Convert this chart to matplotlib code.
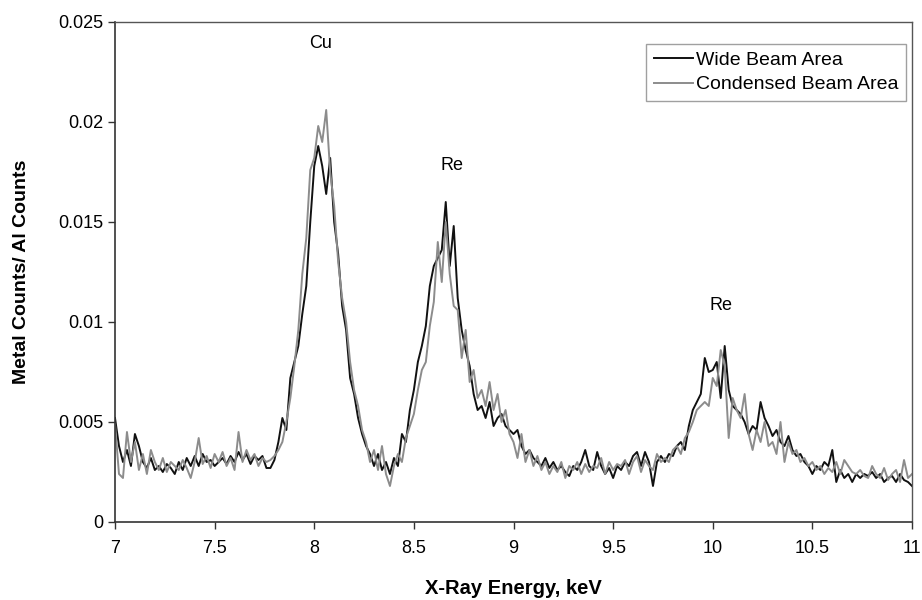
import numpy as np
import matplotlib
matplotlib.use("Agg")
import matplotlib.pyplot as plt

plt.rcParams['font.family'] = ['Liberation Sans', 'DejaVu Sans']

# values in units of 1e-4 (Metal counts / Al counts), sampled every 0.02 keV from 7 to 11 keV
wide_e4 = [
    52, 38, 30, 36, 28, 44, 38, 30, 27, 32,   # 7.00-7.18
    26, 28, 25, 29, 27, 24, 30, 26, 32, 28,   # 7.20-7.38
    33, 28, 34, 30, 31, 28, 30, 32, 29, 33,   # 7.40-7.58
    30, 35, 31, 34, 29, 33, 31, 33, 27, 27,   # 7.60-7.78
    31, 40, 52, 46, 72, 80, 88, 104, 118, 150,  # 7.80-7.98
    178, 188, 178, 164, 182, 150, 134, 108, 96, 72,  # 8.00-8.18
    64, 52, 44, 38, 34, 28, 34, 26, 30, 24,   # 8.20-8.38
    32, 28, 44, 40, 56, 66, 80, 88, 98, 118,  # 8.40-8.58
    128, 132, 136, 160, 128, 148, 112, 96, 86, 78,  # 8.60-8.78
    64, 56, 58, 52, 60, 48, 52, 54, 48, 46,   # 8.80-8.98
    44, 46, 38, 34, 36, 32, 30, 28, 32, 27,   # 9.00-9.18
    30, 26, 28, 25, 23, 28, 26, 30, 36, 28,   # 9.20-9.38
    26, 35, 28, 24, 27, 22, 28, 26, 30, 28,   # 9.40-9.58
    33, 35, 28, 35, 30, 18, 30, 33, 30, 34,   # 9.60-9.78
    33, 38, 40, 36, 48, 56, 60, 64, 82, 75,   # 9.80-9.98
    76, 80, 62, 88, 66, 58, 56, 54, 50, 44,   # 10.00-10.18
    48, 46, 60, 52, 48, 43, 46, 40, 38, 43,   # 10.20-10.38
    36, 33, 34, 30, 28, 24, 28, 26, 30, 28,   # 10.40-10.58
    36, 20, 26, 22, 24, 20, 24, 22, 24, 23,   # 10.60-10.78
    25, 22, 24, 20, 22, 23, 20, 24, 21, 20,   # 10.80-10.98
    18,                                       # 11.00
]
condensed_e4 = [
    49, 24, 22, 45, 30, 40, 26, 34, 24, 36,   # 7.00-7.18
    30, 26, 32, 25, 30, 28, 26, 31, 27, 22,   # 7.20-7.38
    30, 42, 29, 33, 27, 34, 30, 35, 28, 32,   # 7.40-7.58
    26, 45, 30, 36, 31, 34, 28, 32, 30, 31,   # 7.60-7.78
    33, 36, 40, 50, 62, 78, 96, 124, 142, 176,  # 7.80-7.98
    182, 198, 190, 206, 175, 158, 130, 112, 100, 80,  # 8.00-8.18
    66, 58, 46, 40, 30, 36, 26, 38, 24, 18,   # 8.20-8.38
    28, 34, 30, 42, 48, 54, 66, 76, 80, 98,   # 8.40-8.58
    110, 140, 120, 150, 124, 108, 106, 82, 96, 70,  # 8.60-8.78
    76, 62, 66, 58, 70, 56, 64, 50, 56, 44,   # 8.80-8.98
    40, 32, 44, 30, 36, 28, 33, 26, 30, 24,   # 9.00-9.18
    28, 25, 30, 22, 28, 26, 30, 24, 29, 25,   # 9.20-9.38
    28, 27, 32, 24, 30, 26, 29, 28, 31, 24,   # 9.40-9.58
    30, 33, 25, 31, 28, 26, 34, 30, 32, 30,   # 9.60-9.78
    36, 38, 34, 42, 45, 50, 56, 58, 60, 58,   # 9.80-9.98
    72, 68, 86, 78, 42, 62, 56, 52, 64, 44,   # 10.00-10.18
    36, 46, 40, 50, 38, 40, 34, 50, 30, 40,   # 10.20-10.38
    34, 36, 30, 32, 28, 30, 26, 28, 24, 27,   # 10.40-10.58
    25, 30, 24, 31, 28, 25, 24, 26, 23, 22,   # 10.60-10.78
    28, 24, 22, 27, 21, 24, 26, 20, 31, 22,   # 10.80-10.98
    24,                                       # 11.00
]

wide = np.array(wide_e4) * 1e-4
condensed = np.array(condensed_e4) * 1e-4
energy_wide = np.linspace(7, 11, len(wide))
energy_cond = np.linspace(7, 11, len(condensed))

peak_labels = ["Cu", "Re", "Re"]
peak_label_x = [8.03, 8.69, 10.04]
peak_label_y = [0.0239, 0.0178, 0.01085]

x_ticks = [7, 7.5, 8, 8.5, 9, 9.5, 10, 10.5, 11]
x_tick_labels = ["7", "7.5", "8", "8.5", "9", "9.5", "10", "10.5", "11"]
y_ticks = [0, 0.005, 0.01, 0.015, 0.02, 0.025]
y_tick_labels = ["0", "0.005", "0.01", "0.015", "0.02", "0.025"]

fig = plt.figure(figsize=(9.22, 6.0), dpi=100)
ax = fig.add_axes([115/922, 1 - 522/600, 797/922, 500/600])

ax.plot(energy_wide, wide, color="#111111", lw=1.4, label="Wide Beam Area")
ax.plot(energy_cond, condensed, color="#8c8c8c", lw=1.4, label="Condensed Beam Area")

for t, xx, yy in zip(peak_labels, peak_label_x, peak_label_y):
    ax.text(xx, yy, t, ha="center", va="center", fontsize=13)

ax.set_xlim(7, 11)
ax.set_ylim(0, 0.025)
ax.set_xticks(x_ticks)
ax.set_xticklabels(x_tick_labels, fontsize=13)
ax.set_yticks(y_ticks)
ax.set_yticklabels(y_tick_labels, fontsize=13)
ax.tick_params(direction="out", length=5, width=1, color="#333333")
ax.tick_params(axis="x", pad=8)

for side in ["left", "bottom"]:
    ax.spines[side].set_color("#333333")
    ax.spines[side].set_linewidth(1.2)
for side in ["top", "right"]:
    ax.spines[side].set_color("#555555")
    ax.spines[side].set_linewidth(1.0)

ax.set_xlabel("X-Ray Energy, keV", fontsize=14.5, fontweight="bold", labelpad=16)
ax.set_ylabel("Metal Counts/ Al Counts", fontsize=14, fontweight="bold", labelpad=20)

leg = ax.legend(loc="upper right", bbox_to_anchor=(0.9925, 0.957), fontsize=14,
                frameon=True, fancybox=False, handlelength=2.0, handletextpad=0.15,
                borderpad=0.4, labelspacing=0.35, borderaxespad=0)
leg.get_frame().set_edgecolor("#888888")
leg.get_frame().set_linewidth(1.0)

fig.savefig("out.png", dpi=100)
